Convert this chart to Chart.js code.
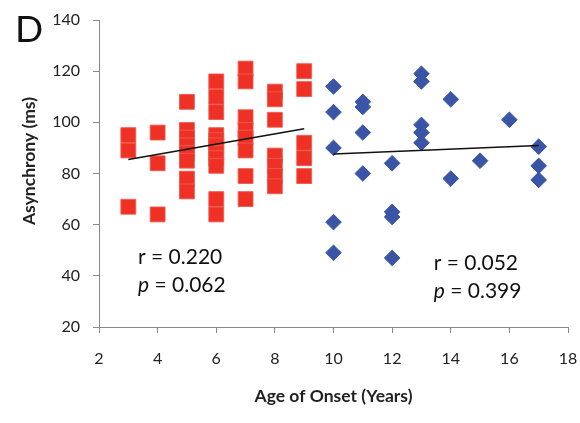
<!DOCTYPE html>
<html>
<head>
<meta charset="utf-8">
<script src="https://cdn.jsdelivr.net/npm/chart.js@4.4.1/dist/chart.umd.min.js"></script>
<style>
html,body{margin:0;padding:0;background:#fff;}
canvas{display:block;}
</style>
</head>
<body>
<canvas id="c" width="580" height="423"></canvas>
<script>
// Early onset group (red squares)
const redAge = [3,3,3, 4,4,4, 5,5,5,5,5,5,5,5, 6,6,6,6,6,6,6,6,6,6,6, 7,7,7,7,7,7,7,7, 8,8,8,8,8,8,8, 9,9,9,9,9];
const redAsync = [95,89,67, 96,84,64, 108,97,94,91,88,85,78,73, 116,110,104,95,93,91,88,86,83,70,64, 121,116,102,97,94,89,79,70, 112,109,101,87,83,79,75, 120,113,92,86,79];
// Late onset group (blue diamonds)
const blueAge = [10,10,10,10,10, 11,11,11,11, 12,12,12,12, 13,13,13,13,13, 14,14, 15, 16, 17,17,17];
const blueAsync = [114,104,90,61,49, 108,106,96,80, 84,65,63,47, 119,116,99,96,92, 109,78, 85, 101, 90.5,83,77.5];
// Regression line endpoints
const redFitAge = [3, 9];
const redFitAsync = [85.5, 97.5];
const blueFitAge = [10, 17];
const blueFitAsync = [87.6, 90.9];
// Axis ticks
const xTicks = [2,4,6,8,10,12,14,16,18];
const yTicks = [20,40,60,80,100,120,140];
// Statistics annotations
const redStats = ["r = 0.220", "0.062"];
const blueStats = ["r = 0.052", "0.399"];

const zip = (xs, ys) => xs.map((x, i) => ({x: x, y: ys[i]}));

const FONT = "Lato, 'Open Sans', sans-serif";

const annot = {
  id: 'annot',
  afterDraw(chart) {
    const ctx = chart.ctx;
    const xs = chart.scales.x, ys = chart.scales.y;
    ctx.save();
    ctx.fillStyle = '#111';
    ctx.textBaseline = 'middle';
    ctx.textAlign = 'left';
    ctx.font = "37px " + FONT;
    ctx.fillText("D", 15, 30);
    const drawStats = (stats, ax, ay1, ay2) => {
      const px = xs.getPixelForValue(ax);
      ctx.font = "21px " + FONT;
      ctx.fillText(stats[0], px, ys.getPixelForValue(ay1));
      const py = ys.getPixelForValue(ay2);
      ctx.font = "italic 21px " + FONT;
      ctx.fillText("p", px, py);
      const w = ctx.measureText("p").width;
      ctx.font = "21px " + FONT;
      ctx.fillText(" = " + stats[1], px + w, py);
    };
    drawStats(redStats, 3.33, 47.3, 36.2);
    drawStats(blueStats, 13.42, 45, 33.8);
    ctx.restore();
  }
};

new Chart(document.getElementById('c'), {
  type: 'scatter',
  data: {
    datasets: [
      { data: zip(redFitAge, redFitAsync), showLine: true, borderColor: '#111', borderWidth: 1.5, pointRadius: 0, fill: false },
      { data: zip(blueFitAge, blueFitAsync), showLine: true, borderColor: '#111', borderWidth: 1.5, pointRadius: 0, fill: false },
      { data: zip(redAge, redAsync), pointStyle: 'rect', pointRadius: 10.5, backgroundColor: '#EE3124', borderColor: 'rgba(240,90,80,0.9)', borderWidth: 1, showLine: false },
      { data: zip(blueAge, blueAsync), pointStyle: 'rectRot', pointRadius: 7.8, backgroundColor: '#3A55A5', borderColor: '#3A55A5', borderWidth: 1, showLine: false }
    ]
  },
  options: {
    responsive: false,
    animation: false,
    devicePixelRatio: 1,
    layout: { padding: { top: 20, right: 12, left: 0, bottom: 0 } },
    plugins: { legend: { display: false }, tooltip: { enabled: false } },
    scales: {
      x: {
        type: 'linear', min: 2, max: 18,
        afterFit(s) { s.height = 96; s.paddingRight = 0; s.paddingLeft = 0; },
        afterBuildTicks(s) { s.ticks = xTicks.map(v => ({value: v})); },
        grid: { drawOnChartArea: false, drawTicks: true, tickLength: 6, color: '#888' },
        border: { color: '#888', width: 1 },
        ticks: { color: '#222', font: { family: FONT, size: 16 }, padding: 16, maxRotation: 0 },
        title: { display: true, text: 'Age of Onset (Years)', color: '#222', font: { family: FONT, size: 17.5, weight: 'bold' }, padding: { top: 0, bottom: 16 } }
      },
      y: {
        type: 'linear', min: 20, max: 140,
        afterFit(s) { s.width = 99; s.paddingTop = 0; s.paddingBottom = 0; },
        afterBuildTicks(s) { s.ticks = yTicks.map(v => ({value: v})); },
        grid: { drawOnChartArea: false, drawTicks: true, tickLength: 6, color: '#888' },
        border: { color: '#888', width: 1 },
        ticks: { color: '#222', font: { family: FONT, size: 16 }, padding: 13 },
        title: { display: true, text: '\u00a0\u00a0\u00a0\u00a0\u00a0\u00a0Asynchrony (ms)', color: '#222', font: { family: FONT, size: 17.5, weight: 'bold' }, padding: { top: 19, bottom: 0 } }
      }
    }
  },
  plugins: [annot]
});
</script>
</body>
</html>
